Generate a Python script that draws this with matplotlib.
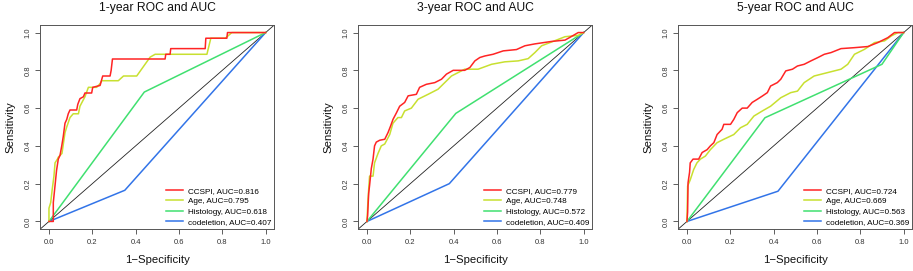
import matplotlib
matplotlib.use("Agg")
import matplotlib.pyplot as plt
import numpy as np

plt.rcParams['font.family'] = ['Liberation Sans', 'DejaVu Sans']

titles = ["1-year ROC and AUC", "3-year ROC and AUC", "5-year ROC and AUC"]
series_names = ["CCSPI", "Age", "Histology", "codeletion"]
auc_values = [
    [0.816, 0.795, 0.618, 0.407],
    [0.779, 0.748, 0.572, 0.409],
    [0.724, 0.669, 0.563, 0.369],
]
colors = ["#FF2424", "#C8E030", "#40E070", "#3274E8"]

# ---- 1-year ----
ccspi1_fpr = [0, 0.02, 0.02, 0.028, 0.035, 0.043, 0.051, 0.059, 0.066, 0.074, 0.082, 0.089, 0.097,
              0.128, 0.133, 0.143, 0.159, 0.166, 0.197, 0.202, 0.236, 0.248, 0.282, 0.287, 0.293,
              0.536, 0.539, 0.559, 0.562, 0.721, 0.724, 0.821, 0.824, 0.844, 1.0]
ccspi1_tpr = [0, 0, 0.10, 0.19, 0.27, 0.33, 0.35, 0.40, 0.45, 0.52, 0.54, 0.57, 0.59,
              0.59, 0.62, 0.65, 0.66, 0.68, 0.68, 0.71, 0.72, 0.77, 0.77, 0.80, 0.86,
              0.86, 0.885, 0.885, 0.915, 0.915, 0.97, 0.97, 1.0, 1.0, 1.0]
age1_fpr = [0, 0, 0.008, 0.015, 0.023, 0.028, 0.039, 0.043, 0.060, 0.074, 0.082, 0.097, 0.112,
            0.136, 0.143, 0.166, 0.182, 0.220, 0.236, 0.243, 0.320, 0.344, 0.405, 0.467, 0.49,
            0.729, 0.747, 0.814, 0.844, 1.0]
age1_tpr = [0, 0.07, 0.10, 0.17, 0.24, 0.31, 0.33, 0.34, 0.36, 0.47, 0.50, 0.55, 0.57,
            0.57, 0.61, 0.66, 0.71, 0.71, 0.73, 0.745, 0.745, 0.77, 0.77, 0.87, 0.885,
            0.885, 0.97, 0.97, 1.0, 1.0]
hist1_fpr = [0, 0.44, 1.0]
hist1_tpr = [0, 0.685, 1.0]
codel1_fpr = [0, 0.35, 1.0]
codel1_tpr = [0, 0.165, 1.0]

# ---- 3-year ----
ccspi3_fpr = [0, 0.003, 0.005, 0.008, 0.012, 0.02, 0.028, 0.035, 0.043, 0.059, 0.082, 0.097,
              0.109, 0.12, 0.136, 0.151, 0.174, 0.19, 0.228, 0.243, 0.274, 0.313, 0.344, 0.367,
              0.398, 0.451, 0.475, 0.498, 0.521, 0.544, 0.582, 0.629, 0.69, 0.729, 0.775,
              0.852, 0.914, 0.945, 0.975, 1.0]
ccspi3_tpr = [0, 0.03, 0.08, 0.15, 0.19, 0.28, 0.33, 0.40, 0.42, 0.43, 0.435, 0.47,
              0.505, 0.54, 0.575, 0.61, 0.63, 0.665, 0.673, 0.71, 0.726, 0.735, 0.753, 0.78,
              0.80, 0.80, 0.815, 0.85, 0.868, 0.876, 0.885, 0.903, 0.91, 0.93, 0.94,
              0.953, 0.96, 0.98, 1.0, 1.0]
age3_fpr = [0, 0.005, 0.012, 0.028, 0.035, 0.051, 0.066, 0.082, 0.105, 0.12, 0.143, 0.159,
            0.174, 0.205, 0.236, 0.282, 0.328, 0.39, 0.451, 0.513, 0.575, 0.636, 0.698,
            0.744, 0.775, 0.806, 0.852, 0.914, 0.975, 1.0]
age3_tpr = [0, 0.12, 0.24, 0.24, 0.31, 0.36, 0.40, 0.41, 0.46, 0.52, 0.55, 0.55,
            0.585, 0.60, 0.647, 0.673, 0.70, 0.77, 0.806, 0.806, 0.832, 0.845, 0.85,
            0.862, 0.894, 0.93, 0.95, 0.978, 0.985, 1.0]
hist3_fpr = [0, 0.41, 1.0]
hist3_tpr = [0, 0.572, 1.0]
codel3_fpr = [0, 0.38, 1.0]
codel3_tpr = [0, 0.20, 1.0]

# ---- 5-year ----
ccspi5_fpr = [0, 0.003, 0.005, 0.012, 0.015, 0.028, 0.054, 0.07, 0.093, 0.108, 0.124, 0.139,
              0.162, 0.17, 0.201, 0.216, 0.232, 0.255, 0.278, 0.301, 0.325, 0.348, 0.371,
              0.386, 0.417, 0.433, 0.456, 0.487, 0.51, 0.541, 0.572, 0.603, 0.634, 0.665,
              0.711, 0.773, 0.835, 0.881, 0.927, 0.958, 1.0]
ccspi5_tpr = [0, 0.05, 0.205, 0.26, 0.31, 0.33, 0.33, 0.365, 0.38, 0.40, 0.417, 0.46,
              0.488, 0.514, 0.514, 0.54, 0.576, 0.60, 0.60, 0.63, 0.647, 0.664, 0.682,
              0.717, 0.735, 0.753, 0.797, 0.806, 0.823, 0.832, 0.85, 0.867, 0.885, 0.894,
              0.915, 0.92, 0.926, 0.947, 0.973, 1.0, 1.0]
age5_fpr = [0, 0.003, 0.015, 0.031, 0.046, 0.062, 0.085, 0.108, 0.139, 0.17, 0.216, 0.247,
            0.278, 0.309, 0.348, 0.386, 0.433, 0.479, 0.51, 0.541, 0.587, 0.649, 0.711,
            0.742, 0.773, 0.819, 0.866, 0.912, 0.943, 0.974, 1.0]
age5_tpr = [0, 0.187, 0.22, 0.275, 0.31, 0.33, 0.346, 0.38, 0.417, 0.435, 0.46, 0.496,
            0.514, 0.558, 0.585, 0.61, 0.655, 0.682, 0.69, 0.735, 0.77, 0.788, 0.806,
            0.832, 0.885, 0.911, 0.947, 0.956, 0.982, 1.0, 1.0]
hist5_fpr = [0, 0.36, 0.9, 1.0]
hist5_tpr = [0, 0.549, 0.832, 1.0]
codel5_fpr = [0, 0.42, 1.0]
codel5_tpr = [0, 0.16, 1.0]

panels = [
    [(ccspi1_fpr, ccspi1_tpr), (age1_fpr, age1_tpr), (hist1_fpr, hist1_tpr), (codel1_fpr, codel1_tpr)],
    [(ccspi3_fpr, ccspi3_tpr), (age3_fpr, age3_tpr), (hist3_fpr, hist3_tpr), (codel3_fpr, codel3_tpr)],
    [(ccspi5_fpr, ccspi5_tpr), (age5_fpr, age5_tpr), (hist5_fpr, hist5_tpr), (codel5_fpr, codel5_tpr)],
]

ticks = [0.0, 0.2, 0.4, 0.6, 0.8, 1.0]
tick_labels = ["0.0", "0.2", "0.4", "0.6", "0.8", "1.0"]

W, H = 913, 271
fig = plt.figure(figsize=(W / 100, H / 100), dpi=100)
lefts = [40.3, 358.3, 678.3]
box_w, box_top, box_bot = 234.0, 25.0, 229.0

for i, left in enumerate(lefts):
    ax = fig.add_axes([left / W, (H - box_bot) / H, box_w / W, (box_bot - box_top) / H])
    ax.set_xlim(-0.04, 1.04)
    ax.set_ylim(-0.04, 1.04)
    ax.plot([-0.04, 1.04], [-0.04, 1.04], color="#222222", lw=0.6, zorder=1)
    # draw in reverse so CCSPI is on top
    for j in reversed(range(4)):
        fpr, tpr = panels[i][j]
        ax.plot(fpr, tpr, color=colors[j], lw=1.1, zorder=2 + (4 - j),
                label=f"{series_names[j]}, AUC={auc_values[i][j]:.3f}")
    handles, labels = ax.get_legend_handles_labels()
    handles, labels = handles[::-1], labels[::-1]
    ax.legend(handles, labels, loc="lower right", frameon=False, fontsize=5.9,
              handlelength=2.0, handletextpad=0.6, labelspacing=0.3,
              borderaxespad=0.2, borderpad=0.2)
    ax.set_xticks(ticks)
    ax.set_xticklabels(tick_labels)
    ax.set_yticks(ticks)
    ax.set_yticklabels(tick_labels, rotation=90, va="center")
    ax.tick_params(axis="both", length=3.5, width=0.6, labelsize=5.5,
                   colors="#444444", labelcolor="#333333", pad=3)
    ax.tick_params(axis="x", pad=4)
    for s in ax.spines.values():
        s.set_color("#555555")
        s.set_linewidth(0.7)
    ax.set_title(titles[i], fontsize=8.7, pad=10, color="#111111")
    ax.set_xlabel("1\u2212Specificity", fontsize=8.2, labelpad=6, color="#111111")
    ax.set_ylabel("Sensitivity", fontsize=8.2, labelpad=6, color="#111111")

fig.savefig("out.png", dpi=100)
